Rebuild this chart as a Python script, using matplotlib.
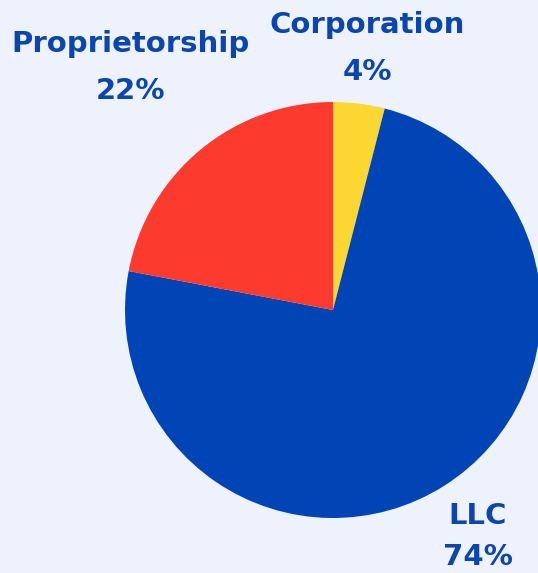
import matplotlib

matplotlib.use("Agg")

import matplotlib.pyplot as plt

labels = ["Corporation", "LLC", "Proprietorship"]
shares = [4, 74, 22]
colors = ["#fcd631", "#0044b5", "#fd3a2e"]

# label anchor points in pixel space (x, y from top), gap to the % line
label_pos = [(367, 25), (478, 516), (130, 44)]
pct_gap = [47, 41, 47]

BG = "#eef2fc"
TXT = "#0a45b0"

W, H = 538, 573
fig = plt.figure(figsize=(W / 100, H / 100), dpi=100)
fig.patch.set_facecolor(BG)
ax = fig.add_axes([0, 0, 1, 1])
ax.set_facecolor(BG)

ax.pie(
    shares,
    colors=colors,
    startangle=90,
    counterclock=False,
    center=(333, H - 310),
    radius=208,
    frame=True,
    wedgeprops=dict(linewidth=0),
)
ax.set_xlim(0, W)
ax.set_ylim(0, H)
ax.set_aspect("equal")
ax.axis("off")

for lab, val, (x, y), gap in zip(labels, shares, label_pos, pct_gap):
    ax.text(x, H - y, lab, ha="center", va="center", fontsize=21,
            fontweight="heavy", color=TXT, family="DejaVu Sans")
    ax.text(x, H - y - gap, f"{val}%", ha="center", va="center", fontsize=21,
            fontweight="heavy", color=TXT, family="DejaVu Sans")

fig.savefig("out.png", dpi=100, facecolor=BG)
